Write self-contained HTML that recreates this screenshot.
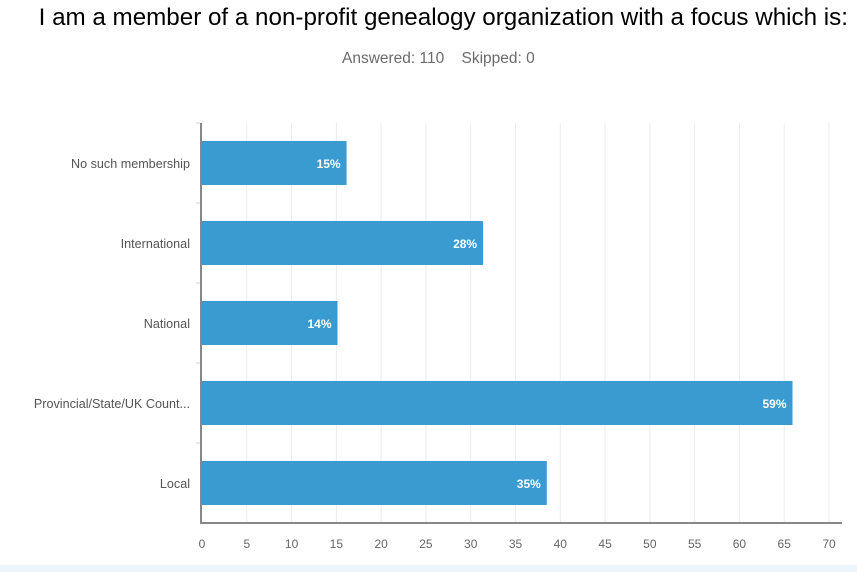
<!DOCTYPE html>
<html><head><meta charset="utf-8"><style>
body{margin:0;width:857px;height:572px;background:#fff;font-family:"Liberation Sans",Arial,sans-serif;overflow:hidden;position:relative}
</style></head><body>
<div style="position:absolute;right:9px;top:4px;text-align:right;font-size:24.2px;color:#000;white-space:nowrap">I am a member of a non-profit genealogy organization with a focus which is:</div>
<div style="position:absolute;left:342px;top:50px;font-size:15.5px;color:#6b6b6b">Answered: 110&nbsp;&nbsp;&nbsp;&nbsp;Skipped: 0</div>
<svg id="c" width="857" height="572" style="position:absolute;left:0;top:0"></svg>
<div style="position:absolute;left:0;top:565px;width:857px;height:7px;background:#eef4fb"></div>
<script>
const categories=["No such membership","International","National","Provincial/State/UK Count...","Local"];
const counts=[16,31,15,65,38];
const pctLabels=["15%","28%","14%","59%","35%"];
const ticks=[0,5,10,15,20,25,30,35,40,45,50,55,60,65,70];
const NS="http://www.w3.org/2000/svg";
const svg=document.getElementById('c');
const x0=201,x1=838,xmax=70,yTop=123,yBottom=523;
const xs=v=>x0+(x1-x0)*v/xmax;
const xt=v=>202+(829-202)*v/xmax;
const band=(yBottom-yTop)/categories.length;
function mk(t,a){const e=document.createElementNS(NS,t);for(const k in a)e.setAttribute(k,a[k]);svg.appendChild(e);return e;}
ticks.forEach(t=>{
 if(t>0){const g=mk('line',{x1:xt(t),x2:xt(t),y1:yTop,y2:yBottom,stroke:'#ececec','stroke-width':1});
 
 }
 const l=mk('text',{x:xt(t),y:548,'text-anchor':'middle','font-size':12,fill:'#666','font-family':'Liberation Sans, sans-serif'});
 l.textContent=t;
 
 
});
categories.forEach((c,i)=>{
 const yc=yTop+band*(i+0.5);
 const b=mk('rect',{x:x0,y:yc-22,width:xs(counts[i])-x0,height:44,fill:'#3a9bd0'});
 
 
 const v=mk('text',{x:xs(counts[i])-6,y:yc+5,'text-anchor':'end','font-size':12,'font-weight':'bold',fill:'#fff','font-family':'Liberation Sans, sans-serif'});
 v.textContent=pctLabels[i];
 
 
 const l=mk('text',{x:190,y:yc+5,'text-anchor':'end','font-size':12.6,fill:'#555','font-family':'Liberation Sans, sans-serif'});
 l.textContent=c;
 
 
 const tk=mk('line',{x1:196,x2:x0,y1:yTop+band*i,y2:yTop+band*i,stroke:'#ccc'});
 
 
});
const ya=mk('line',{x1:x0,x2:x0,y1:yTop,y2:yBottom,stroke:'#888','stroke-width':2});


const xa=mk('line',{x1:x0-1,x2:842,y1:yBottom,y2:yBottom,stroke:'#888','stroke-width':2});


</script>
</body></html>
